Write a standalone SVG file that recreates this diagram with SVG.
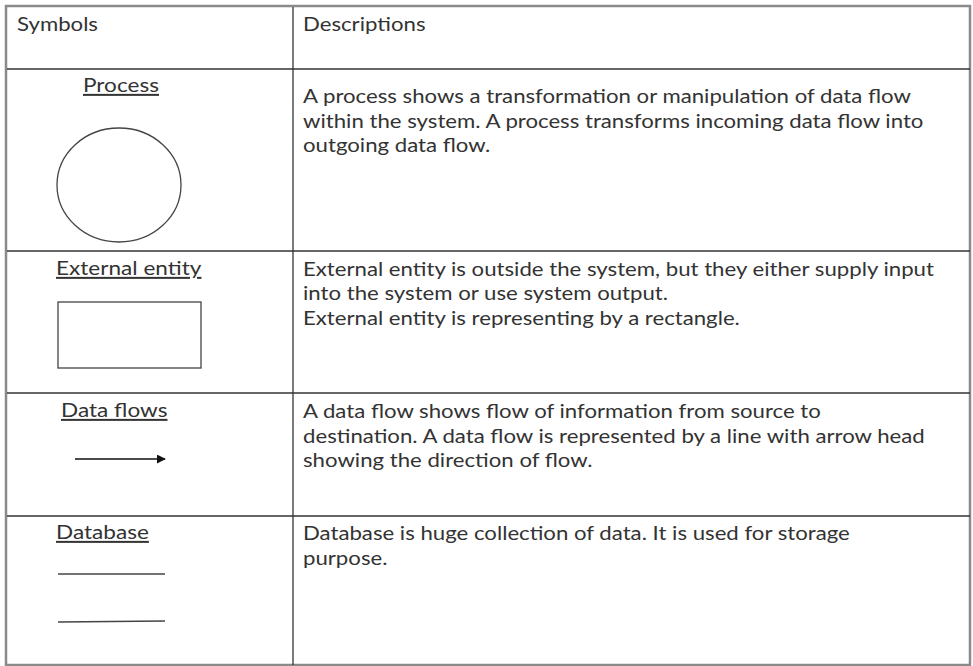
<svg xmlns="http://www.w3.org/2000/svg" width="973" height="666" viewBox="0 0 973 666">
<style>
.t{font-family:Lato,"Open Sans","Liberation Sans",sans-serif;font-size:20px;fill:#333}
.l{text-decoration:underline}
.grid{stroke:#333;stroke-width:1.3;fill:none}
.sym{stroke:#444;stroke-width:1.3;fill:none}
</style>
<defs>
<marker id="ah" viewBox="0 0 10 10" refX="9" refY="5" markerWidth="9" markerHeight="9" markerUnits="userSpaceOnUse" orient="auto"><path d="M0,0 L10,5 L0,10 z" fill="#111"/></marker>
</defs>
<rect width="973" height="666" fill="#fff"/>
<g id="table">
<rect x="6" y="6" width="964" height="659" fill="none" stroke="#8a8a8a" stroke-width="2.5"/>
<line class="grid" x1="293" y1="7" x2="293" y2="665"/>
<line class="grid" x1="7" y1="69" x2="970" y2="69"/>
<line class="grid" x1="7" y1="251" x2="970" y2="251"/>
<line class="grid" x1="7" y1="393" x2="970" y2="393"/>
<line class="grid" x1="7" y1="516" x2="970" y2="516"/>
</g>
<g id="header">
<text class="t" transform="translate(17 31) scale(1.11 1)">Symbols</text>
<text class="t" transform="translate(303 31) scale(1.11 1)">Descriptions</text>
</g>
<g id="process">
<text class="t l" transform="translate(83 92) scale(1.13 1)">Process</text>
<ellipse class="sym" cx="119" cy="185" rx="62" ry="57"/>
<g transform="translate(303 0) scale(1.11 1)">
<text class="t" x="0" y="103.5">A process shows a transformation or manipulation of data flow</text>
<text class="t" x="0" y="128">within the system. A process transforms incoming data flow into</text>
<text class="t" x="0" y="152.5">outgoing data flow.</text>
</g>
</g>
<g id="external-entity">
<text class="t l" transform="translate(56 275) scale(1.13 1)">External entity</text>
<rect class="sym" x="58" y="302" width="143" height="66"/>
<g transform="translate(303 0) scale(1.11 1)">
<text class="t" x="0" y="276">External entity is outside the system, but they either supply input</text>
<text class="t" x="0" y="300.5">into the system or use system output.</text>
<text class="t" x="0" y="325">External entity is representing by a rectangle.</text>
</g>
</g>
<g id="data-flows">
<text class="t l" transform="translate(61 417) scale(1.13 1)">Data flows</text>
<g transform="translate(303 0) scale(1.11 1)">
<text class="t" x="0" y="418.5">A data flow shows flow of information from source to</text>
<text class="t" x="0" y="443">destination. A data flow is represented by a line with arrow head</text>
<text class="t" x="0" y="467.5">showing the direction of flow.</text>
</g>
</g>
<g id="connectors">
<line x1="75" y1="459" x2="165" y2="459" stroke="#111" stroke-width="1.3" marker-end="url(#ah)"/>
</g>
<g id="database">
<text class="t l" transform="translate(56 539) scale(1.13 1)">Database</text>
<line class="sym" x1="58" y1="574" x2="165" y2="574"/>
<line class="sym" x1="58" y1="622" x2="165" y2="621"/>
<g transform="translate(303 0) scale(1.11 1)">
<text class="t" x="0" y="540.5">Database is huge collection of data. It is used for storage</text>
<text class="t" x="0" y="565">purpose.</text>
</g>
</g>
</svg>
